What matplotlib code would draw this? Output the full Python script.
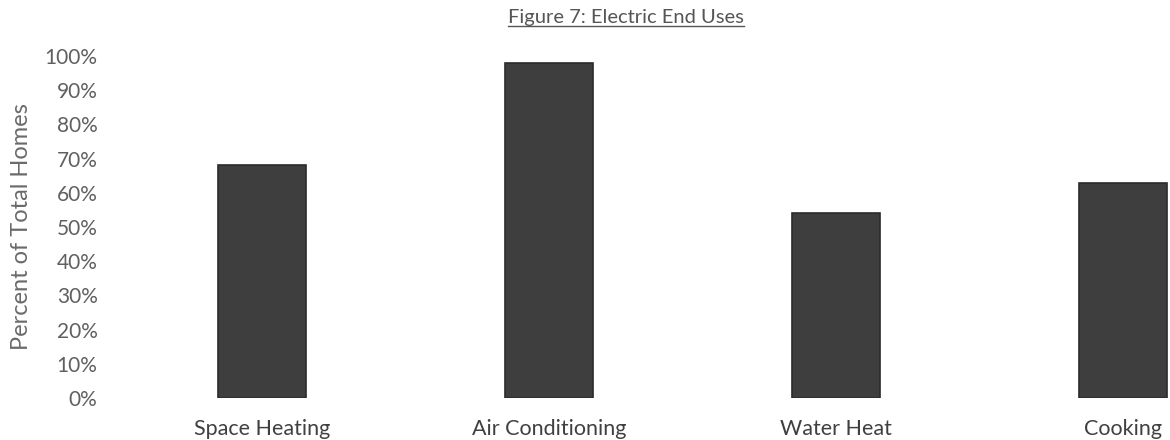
import matplotlib
matplotlib.use("Agg")
import matplotlib.pyplot as plt
from matplotlib.lines import Line2D
from matplotlib.ticker import PercentFormatter

categories = ["Space Heating", "Air Conditioning", "Water Heat", "Cooking"]
percent_homes = [68, 98, 54, 63]
y_ticks = [0, 10, 20, 30, 40, 50, 60, 70, 80, 90, 100]

W, H = 1170, 440
fig = plt.figure(figsize=(W / 100, H / 100), dpi=100)
plt.rcParams["font.family"] = ["Lato", "DejaVu Sans"]

# axes placed in pixel terms: x from 117 to 1170, y from 398 (0%) to 56 (100%)
left_px, right_px = 117, 1170
bottom_px, top_px = 398, 56
ax = fig.add_axes([left_px / W, 1 - bottom_px / H,
                   (right_px - left_px) / W, (bottom_px - top_px) / H])

x = list(range(len(categories)))
ax.bar(x, percent_homes, width=0.31, color="#3e3e3e",
       edgecolor="#2b2b2b", linewidth=1.2, zorder=2)

# category centres sit 287 px apart starting at 262 px
step = 287.0
first = 262.0
ax.set_xlim((left_px - first) / step, (right_px - first) / step)
ax.set_ylim(0, 100)

ax.set_yticks(y_ticks)
ax.yaxis.set_major_formatter(PercentFormatter(decimals=0))
ax.set_xticks(x)
ax.set_xticklabels(categories)
ax.tick_params(axis="y", length=0, pad=14, labelsize=15, labelcolor="#606060")
ax.tick_params(axis="x", length=0, pad=15, labelsize=15.5, labelcolor="#404040")
for s in ax.spines.values():
    s.set_visible(False)

fig.text(22 / W, 1 - 227 / H, "Percent of Total Homes", rotation=90,
         ha="center", va="center", fontsize=17, color="#6a6a6a")

title = fig.text(626 / W, 1 - 17 / H, "Figure 7: Electric End Uses",
                 ha="center", va="center", fontsize=14.5, color="#555555")

# underline the title
fig.canvas.draw()
bb = title.get_window_extent(renderer=fig.canvas.get_renderer())
y_line = (bb.y0 - 1) / H
fig.add_artist(Line2D([bb.x0 / W, bb.x1 / W], [y_line, y_line],
                      transform=fig.transFigure, color="#555555", linewidth=1.0))

fig.savefig("out.png", dpi=100, facecolor="white")
